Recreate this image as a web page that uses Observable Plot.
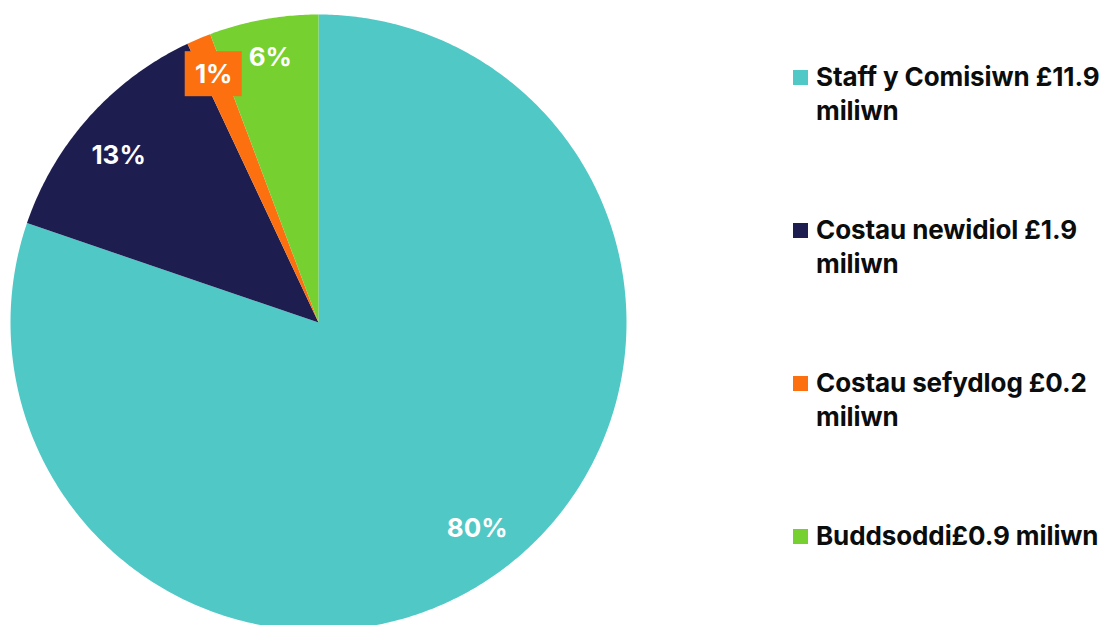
<!DOCTYPE html>
<html><head><meta charset="utf-8">
<script src="https://cdn.jsdelivr.net/npm/d3@7"></script>
<script src="https://cdn.jsdelivr.net/npm/@observablehq/plot@0.6"></script>
<style>
body{margin:0;background:#fff;font-family:Inter,"Noto Sans",sans-serif;}
#wrap{position:relative;width:1109px;height:625px;overflow:hidden;}
#chart{position:absolute;left:0;top:0;}
.entry{position:absolute;left:793px;width:320px;}
.sw{position:absolute;left:0;top:10px;width:15px;height:15px;}
.lt{position:absolute;left:23px;width:300px;font-weight:700;font-size:26px;line-height:34px;color:#0b0c0c;white-space:normal;letter-spacing:-0.1px;}
</style></head><body>
<div id="wrap"><div id="chart"></div><div id="legend"></div></div>
<script>
const categories = ["Staff y Comisiwn", "Costau newidiol", "Costau sefydlog", "Buddsoddi"];
const values = [11.93, 1.9, 0.19, 0.85];
const legendLabels = ["Staff y Comisiwn £11.9 miliwn", "Costau newidiol £1.9 miliwn", "Costau sefydlog £0.2 miliwn", "Buddsoddi£0.9 miliwn"];
const colors = ["#50c8c6", "#1e1d4f", "#fd700f", "#76d02f"];
const boxed = [false, false, true, false];

const W = 1109, H = 625, CX = 318, CY = 322, R = 308;
const total = d3.sum(values);
const arcs = d3.pie().sort(null).value(d => d.value)(categories.map((c, i) => ({name: c, value: values[i], i})));

// polygon points for each slice (unit radius, y up)
const pts = [];
for (const a of arcs) {
  const name = a.data.name;
  pts.push({name, x: 0, y: 0});
  const n = Math.max(2, Math.ceil((a.endAngle - a.startAngle) / (Math.PI / 360)));
  for (let k = 0; k <= n; k++) {
    const t = a.startAngle + (a.endAngle - a.startAngle) * k / n;
    pts.push({name, x: Math.sin(t), y: Math.cos(t)});
  }
  pts.push({name, x: 0, y: 0});
}
// label radius: large slices a bit further in, small slices near the rim
const labels = arcs.map(a => {
  const span = a.endAngle - a.startAngle;
  const m = (a.startAngle + a.endAngle) / 2 - (span > 0.5 ? 0.035 : 0);
  const f = span > 0.5 ? 0.845 : 0.875;
  return {name: a.data.name, boxed: boxed[a.data.i], text: Math.round(a.data.value / total * 100) + "%",
          x: f * Math.sin(m), y: f * Math.cos(m)};
});
const bw = 57 / R / 2, bh = 45 / R / 2;

const plot = Plot.plot({
  width: W, height: H,
  margin: 0,
  x: {domain: [-CX / R, (W - CX) / R], axis: null},
  y: {domain: [-(H - CY) / R, CY / R], axis: null},
  color: {domain: categories, range: colors},
  style: {fontFamily: "Inter, 'Noto Sans', sans-serif", background: "white"},
  marks: [
    Plot.line(pts, {x: "x", y: "y", z: "name", fill: "name", stroke: "none"}),
    Plot.rect(labels.filter(d => d.boxed), {x1: d => d.x - bw, x2: d => d.x + bw, y1: d => d.y - bh, y2: d => d.y + bh, fill: "name"}),
    Plot.text(labels, {x: "x", y: "y", text: "text", fill: "white", fontSize: 26, fontWeight: 700})
  ]
});
document.getElementById("chart").append(plot);

const leg = d3.select("#legend");
legendLabels.forEach((t, i) => {
  const e = leg.append("div").attr("class", "entry").style("top", (60 + i * 153) + "px");
  e.append("div").attr("class", "sw").style("background", colors[i]);
  e.append("div").attr("class", "lt").text(t);
});
</script>
</body></html>
